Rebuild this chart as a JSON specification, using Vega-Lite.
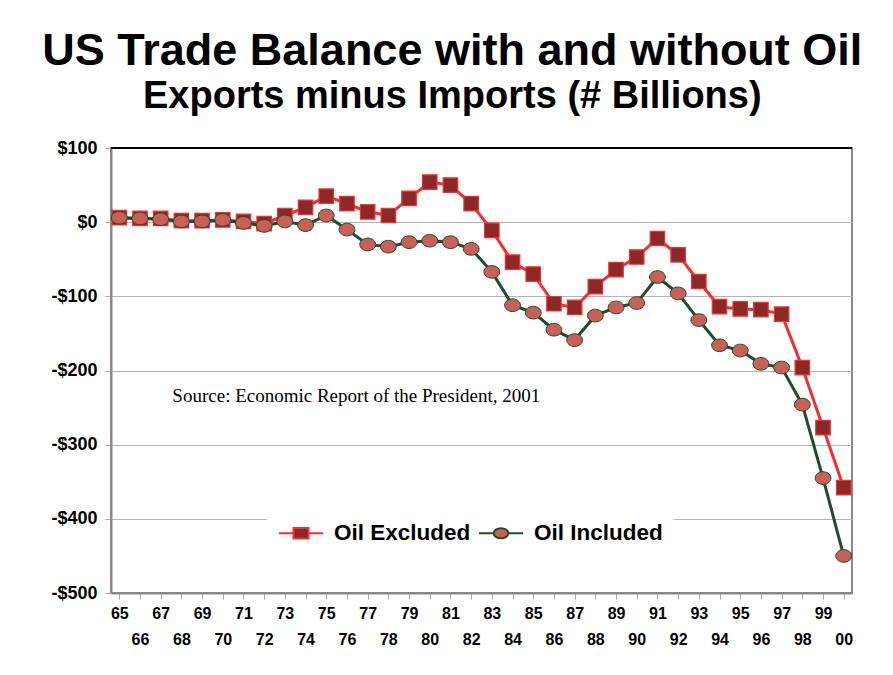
{
  "$schema": "https://vega.github.io/schema/vega-lite/v6.json",
  "autosize": {"type": "none"},
  "width": 741,
  "height": 445,
  "padding": {"left": 111, "top": 148, "right": 41, "bottom": 82},
  "background": "white",
  "title": {
    "text": "US Trade Balance with and without Oil",
    "subtitle": "Exports minus Imports (# Billions)",
    "anchor": "middle",
    "frame": "bounds",
    "font": "Liberation Sans",
    "fontSize": 45,
    "fontWeight": "bold",
    "color": "black",
    "subtitleFont": "Liberation Sans",
    "subtitleFontSize": 38,
    "subtitleFontWeight": "bold",
    "subtitleColor": "black",
    "subtitlePadding": 4,
    "offset": 23
  },
  "config": {
    "view": {"stroke": "#888", "strokeWidth": 2},
    "axis": {"labelFont": "Liberation Sans", "labelFontWeight": "bold", "labelColor": "black", "title": null}
  },
  "data": {
    "values": [
      {"year": "65", "series": "Oil Excluded", "value": 6},
      {"year": "66", "series": "Oil Excluded", "value": 5},
      {"year": "67", "series": "Oil Excluded", "value": 5},
      {"year": "68", "series": "Oil Excluded", "value": 2},
      {"year": "69", "series": "Oil Excluded", "value": 2},
      {"year": "70", "series": "Oil Excluded", "value": 3},
      {"year": "71", "series": "Oil Excluded", "value": 1},
      {"year": "72", "series": "Oil Excluded", "value": -2},
      {"year": "73", "series": "Oil Excluded", "value": 9},
      {"year": "74", "series": "Oil Excluded", "value": 20},
      {"year": "75", "series": "Oil Excluded", "value": 35},
      {"year": "76", "series": "Oil Excluded", "value": 25},
      {"year": "77", "series": "Oil Excluded", "value": 14},
      {"year": "78", "series": "Oil Excluded", "value": 9},
      {"year": "79", "series": "Oil Excluded", "value": 32},
      {"year": "80", "series": "Oil Excluded", "value": 54},
      {"year": "81", "series": "Oil Excluded", "value": 50},
      {"year": "82", "series": "Oil Excluded", "value": 25},
      {"year": "83", "series": "Oil Excluded", "value": -11},
      {"year": "84", "series": "Oil Excluded", "value": -54},
      {"year": "85", "series": "Oil Excluded", "value": -70},
      {"year": "86", "series": "Oil Excluded", "value": -110},
      {"year": "87", "series": "Oil Excluded", "value": -115},
      {"year": "88", "series": "Oil Excluded", "value": -87},
      {"year": "89", "series": "Oil Excluded", "value": -64},
      {"year": "90", "series": "Oil Excluded", "value": -47},
      {"year": "91", "series": "Oil Excluded", "value": -22},
      {"year": "92", "series": "Oil Excluded", "value": -44},
      {"year": "93", "series": "Oil Excluded", "value": -80},
      {"year": "94", "series": "Oil Excluded", "value": -114},
      {"year": "95", "series": "Oil Excluded", "value": -117},
      {"year": "96", "series": "Oil Excluded", "value": -118},
      {"year": "97", "series": "Oil Excluded", "value": -124},
      {"year": "98", "series": "Oil Excluded", "value": -196},
      {"year": "99", "series": "Oil Excluded", "value": -277},
      {"year": "00", "series": "Oil Excluded", "value": -358},
      {"year": "65", "series": "Oil Included", "value": 6},
      {"year": "66", "series": "Oil Included", "value": 5},
      {"year": "67", "series": "Oil Included", "value": 4},
      {"year": "68", "series": "Oil Included", "value": 1},
      {"year": "69", "series": "Oil Included", "value": 1},
      {"year": "70", "series": "Oil Included", "value": 3},
      {"year": "71", "series": "Oil Included", "value": -1},
      {"year": "72", "series": "Oil Included", "value": -5},
      {"year": "73", "series": "Oil Included", "value": 1},
      {"year": "74", "series": "Oil Included", "value": -4},
      {"year": "75", "series": "Oil Included", "value": 9},
      {"year": "76", "series": "Oil Included", "value": -10},
      {"year": "77", "series": "Oil Included", "value": -30},
      {"year": "78", "series": "Oil Included", "value": -33},
      {"year": "79", "series": "Oil Included", "value": -27},
      {"year": "80", "series": "Oil Included", "value": -25},
      {"year": "81", "series": "Oil Included", "value": -27},
      {"year": "82", "series": "Oil Included", "value": -36},
      {"year": "83", "series": "Oil Included", "value": -67},
      {"year": "84", "series": "Oil Included", "value": -112},
      {"year": "85", "series": "Oil Included", "value": -122},
      {"year": "86", "series": "Oil Included", "value": -145},
      {"year": "87", "series": "Oil Included", "value": -159},
      {"year": "88", "series": "Oil Included", "value": -126},
      {"year": "89", "series": "Oil Included", "value": -115},
      {"year": "90", "series": "Oil Included", "value": -109},
      {"year": "91", "series": "Oil Included", "value": -74},
      {"year": "92", "series": "Oil Included", "value": -96},
      {"year": "93", "series": "Oil Included", "value": -132},
      {"year": "94", "series": "Oil Included", "value": -166},
      {"year": "95", "series": "Oil Included", "value": -173},
      {"year": "96", "series": "Oil Included", "value": -191},
      {"year": "97", "series": "Oil Included", "value": -196},
      {"year": "98", "series": "Oil Included", "value": -246},
      {"year": "99", "series": "Oil Included", "value": -345},
      {"year": "00", "series": "Oil Included", "value": -450}
    ]
  },
  "layer": [
    {
      "encoding": {
        "x": {
          "field": "year", "type": "ordinal", "sort": null,
          "scale": {"type": "point", "padding": 0.4},
          "axis": {
            "labelAngle": 0, "labelFontSize": 16, "labelPadding": 6, "labelLineHeight": 26,
            "labelOverlap": false,
            "labelExpr": "toNumber(datum.value) % 2 == 0 ? ['', datum.value] : datum.value",
            "domainColor": "#888", "domainWidth": 2, "tickColor": "#aaa", "tickSize": 6
          }
        },
        "y": {
          "field": "value", "type": "quantitative",
          "scale": {"domain": [-500, 100], "nice": false},
          "axis": {
            "values": [-500, -450, -400, -350, -300, -250, -200, -150, -100, -50, 0, 50, 100],
            "labelExpr": "datum.value % 100 != 0 ? '' : (datum.value < 0 ? '-$' + abs(datum.value) : '$' + datum.value)",
            "labelFontSize": 18, "labelPadding": 8,
            "domainColor": "#888", "domainWidth": 2,
            "tickSize": 6,
            "tickColor": {"condition": {"test": "datum.value % 100 != 0", "value": "transparent"}, "value": "#aaa"},
            "grid": true,
            "gridColor": {"condition": {"test": "datum.value % 100 != 0", "value": "#f3f3f3"}, "value": "#b4b4b4"},
            "gridWidth": 1.2
          }
        }
      },
      "layer": [
        {
          "mark": {"type": "line", "strokeWidth": 3},
          "encoding": {
            "stroke": {"field": "series", "type": "nominal",
              "scale": {"domain": ["Oil Excluded", "Oil Included"], "range": ["#f03030", "#1e4d2b"]}}
          }
        },
        {
          "transform": [{"filter": "datum.series == 'Oil Excluded'"}],
          "mark": {"type": "point", "shape": "square", "filled": true, "size": 210, "strokeWidth": 1.2, "opacity": 1},
          "encoding": {
            "fill": {"field": "series", "type": "nominal",
              "scale": {"domain": ["Oil Excluded", "Oil Included"], "range": ["#8c2828", "#c86058"]}},
            "stroke": {"field": "series", "type": "nominal"}
          }
        },
        {
          "transform": [{"filter": "datum.series == 'Oil Included'"}],
          "mark": {"type": "point", "shape": "M-1,0A1,0.8 0 1,1 1,0A1,0.8 0 1,1 -1,0Z", "filled": true, "size": 250, "strokeWidth": 1, "opacity": 1},
          "encoding": {
            "fill": {"field": "series", "type": "nominal"},
            "stroke": {"field": "series", "type": "nominal"}
          }
        },
        {
          "data": {"values": [{"year": "68", "value": -235, "label": "Source: Economic Report of the President, 2001"}]},
          "mark": {"type": "text", "align": "left", "baseline": "middle", "dx": -9, "font": "Liberation Serif", "fontSize": 19, "color": "black"},
          "encoding": {"text": {"field": "label"}}
        },
        {
          "transform": [{"filter": "datum.year == '65'"}],
          "mark": {"type": "point", "filled": true, "opacity": 0},
          "encoding": {
            "shape": {"field": "series", "type": "nominal",
              "scale": {"domain": ["Oil Excluded", "Oil Included"],
                "range": ["M-1,0H-0.34M0.34,0H1M-0.34,-0.24H0.34V0.24H-0.34Z", "M-1,0H-0.33M0.33,0H1M-0.33,0A0.33,0.23 0 1,1 0.33,0A0.33,0.23 0 1,1 -0.33,0Z"]},
              "legend": {
                "title": null, "orient": "none", "direction": "horizontal",
                "legendX": 156, "legendY": 351,
                "fillColor": "white", "padding": 11,
                "symbolSize": 1936, "symbolStrokeWidth": 2, "symbolOpacity": 1,
                "labelFont": "Liberation Sans", "labelFontWeight": "bold", "labelFontSize": 22.5, "labelColor": "black",
                "labelOffset": 10, "columnPadding": 4
              }
            },
            "fill": {"field": "series", "type": "nominal"},
            "stroke": {"field": "series", "type": "nominal"}
          }
        }
      ]
    },
    {
      "mark": {"type": "rule", "color": "black", "strokeWidth": 2},
      "encoding": {"y": {"datum": 100}}
    }
  ]
}
